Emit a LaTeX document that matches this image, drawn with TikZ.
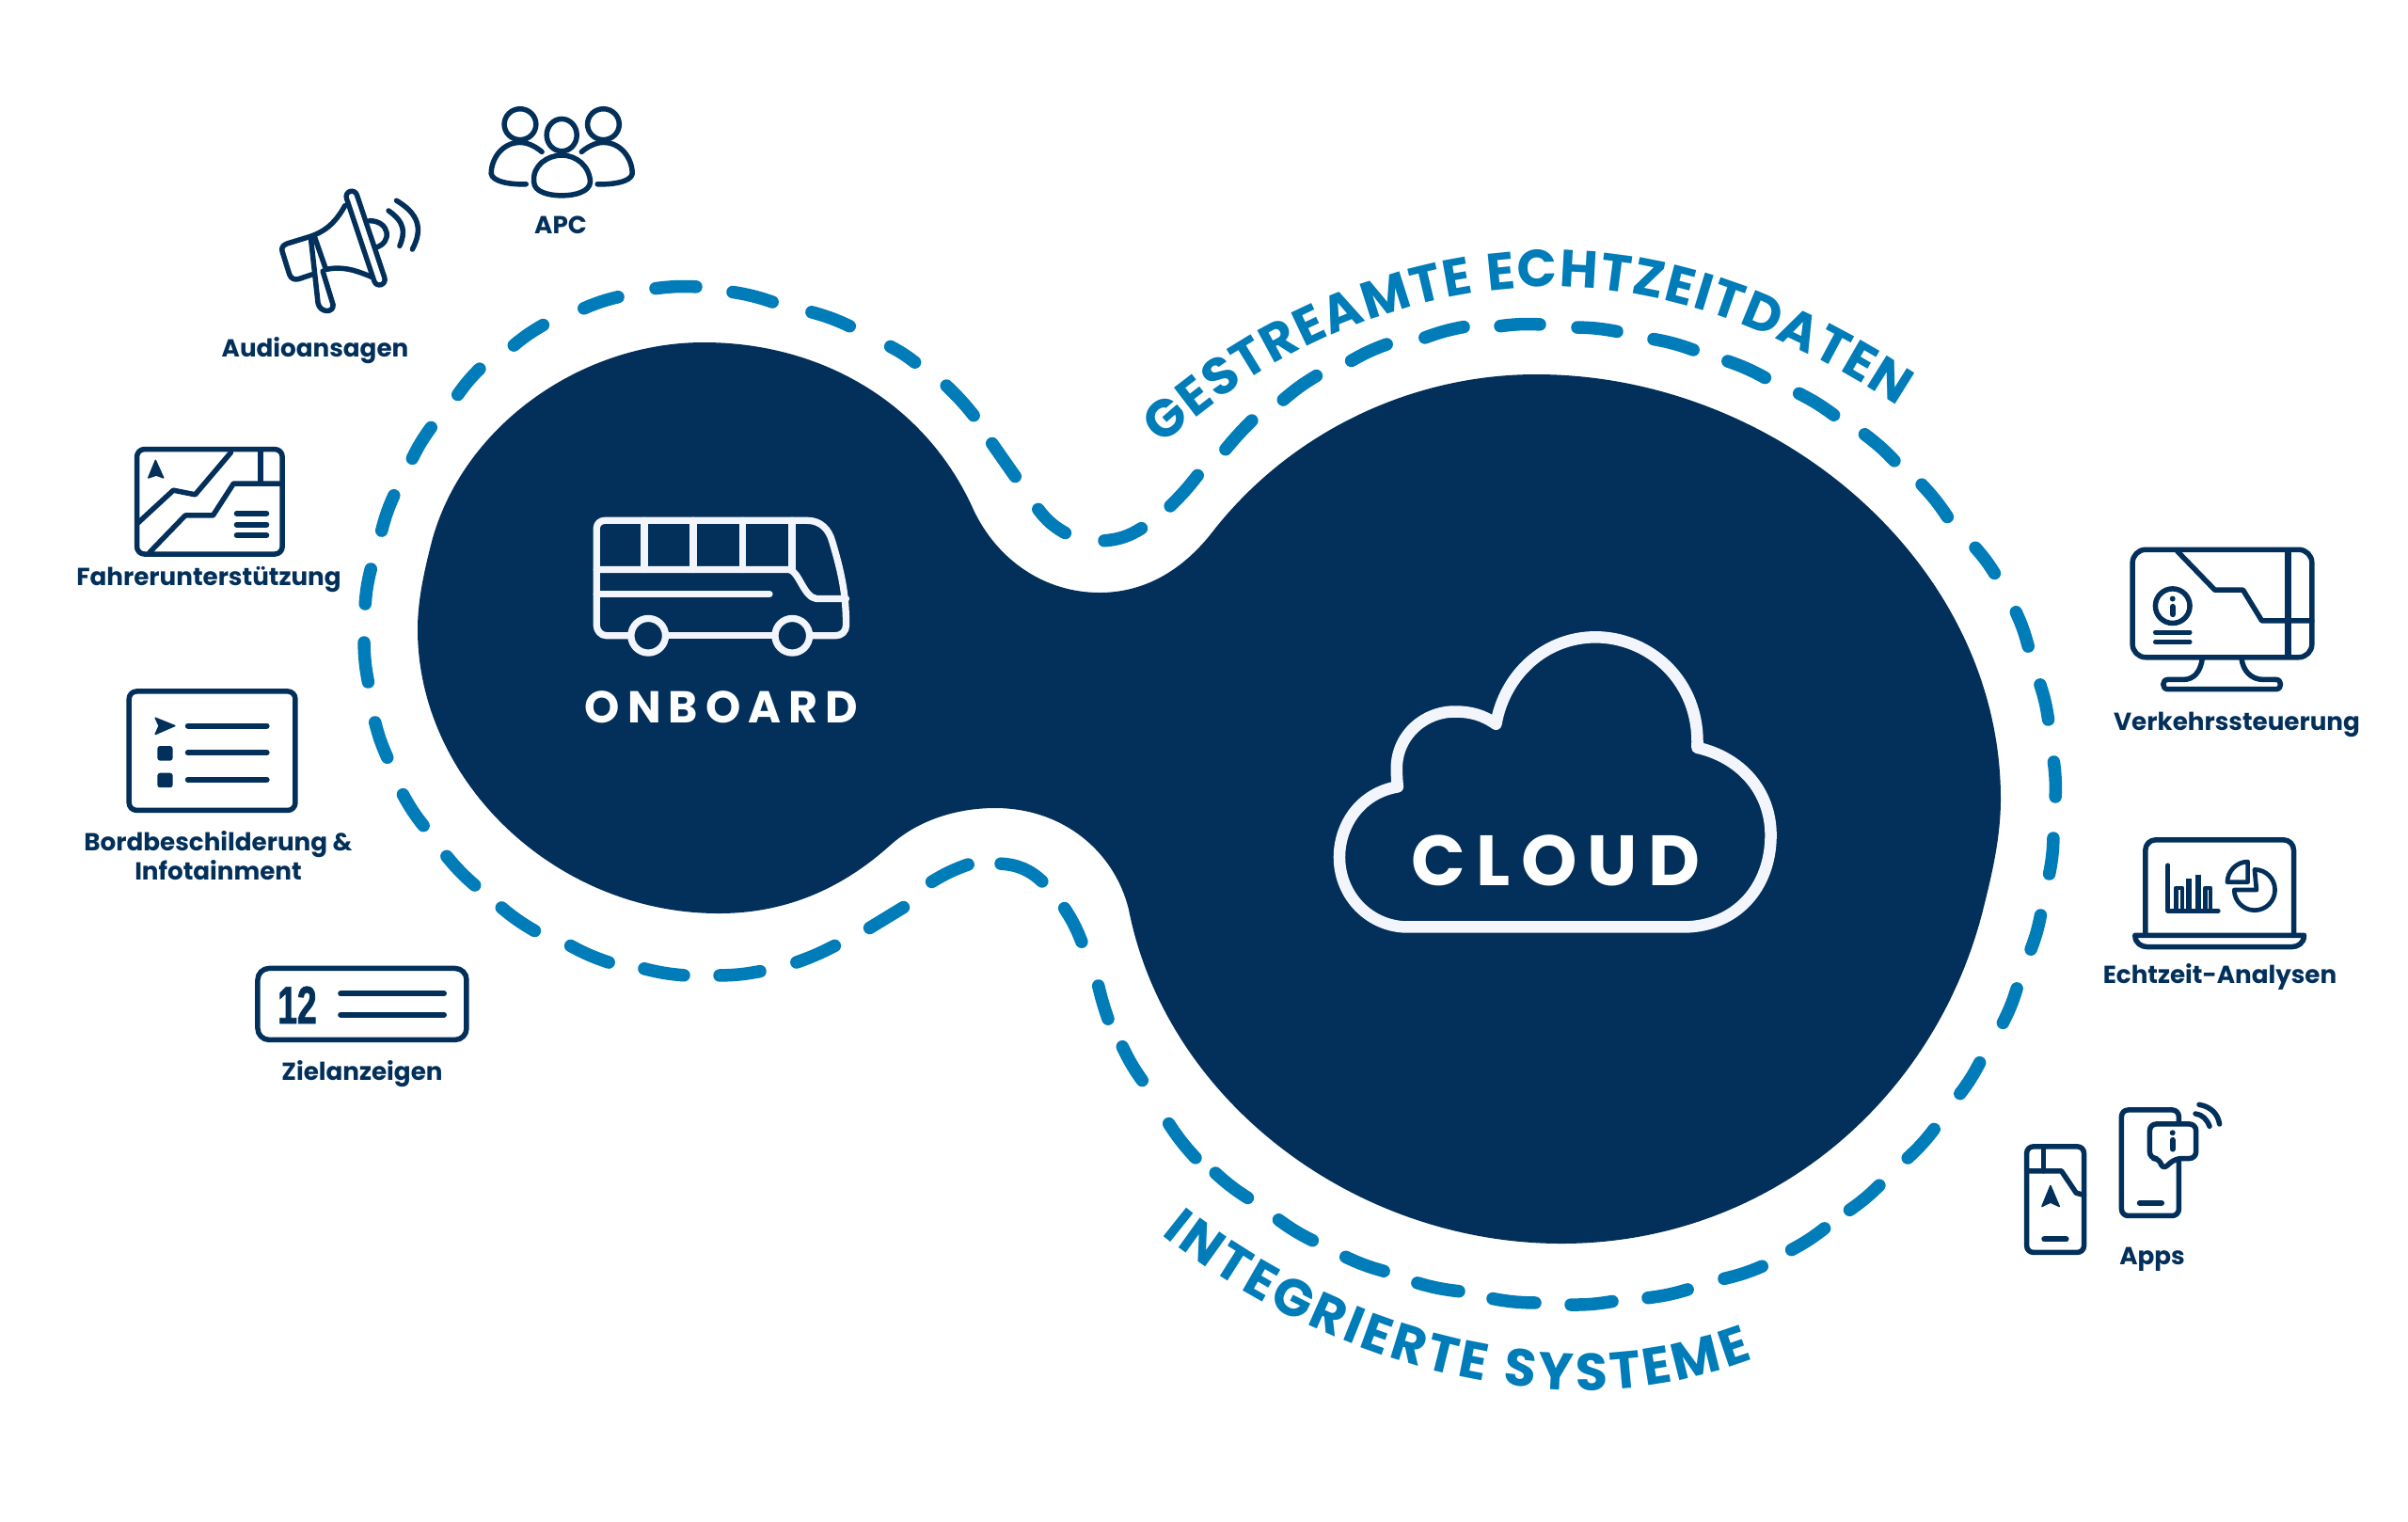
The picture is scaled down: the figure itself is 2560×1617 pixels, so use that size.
\documentclass[tikz,border=0pt]{standalone}
\usepackage{fontspec}
\usetikzlibrary{decorations.text}
\setmainfont{Poppins}
\newfontfamily\numfont[FakeStretch=0.66,FakeBold=1.5]{Liberation Sans}
\definecolor{navy}{HTML}{02305A}
\definecolor{dashblue}{HTML}{007CB9}
\definecolor{iconwhite}{HTML}{F2F5FB}
\newcommand\arctext{\bfseries\fontsize{15.8}{18}\selectfont\color{dashblue}}
\tikzset{
  zoomA/.style={shift={(60,90)},x=0.0042088cm,y=-0.0035714cm},
  zoomB/.style={shift={(60,700)},x=0.003333cm,y=-0.003333cm},
  zoomC/.style={shift={(2140,550)},x=0.003333cm,y=-0.003333cm},
  zoomD/.style={shift={(2120,1140)},x=0.003333cm,y=-0.003333cm},
  zoomE/.style={shift={(600,520)},x=0.003333cm,y=-0.003333cm},
  zoomF/.style={shift={(1400,650)},x=0.003333cm,y=-0.003333cm},
  zoomG/.style={shift={(2250,880)},x=0.003333cm,y=-0.003333cm},
  icon/.style={draw=navy,line width=.055cm,line join=round,line cap=round},
  thinbar/.style={draw=navy,line width=.06cm,line cap=round},
  solid icon/.style={fill=navy,draw=navy,line width=.015cm,line join=round},
  lightline/.style={draw=iconwhite,line width=.073cm,line join=round,line cap=round},
  label/.style={anchor=base,inner sep=0pt,text=navy,font=\bfseries\fontsize{7.45}{8}\selectfont},
  dashpiece/.style={draw=dashblue,line width=.135cm,line cap=round,shorten >=.03cm,shorten <=.03cm},
}
\begin{document}
\begin{tikzpicture}[x=0.01cm,y=-0.01cm]
\useasboundingbox (0,0) rectangle (2560,1617);
\fill[white] (0,0) rectangle (2560,1617);
% blob
\fill[navy] (748,364) .. controls (620,364) and (495,450) .. (460,572)
 .. controls (450,610) and (444,640) .. (444,669)
 .. controls (444,830) and (590,971) .. (764,971)
 .. controls (835,971) and (895,945) .. (947,898)
 .. controls (975,873) and (1015,859) .. (1058,859)
 .. controls (1130,859) and (1185,905) .. (1200,967)
 .. controls (1240,1170) and (1440,1322) .. (1660,1322)
 .. controls (1880,1322) and (2060,1170) .. (2110,960)
 .. controls (2120,920) and (2127,885) .. (2127,849)
 .. controls (2127,600) and (1890,398) .. (1633,398)
 .. controls (1500,398) and (1370,460) .. (1287,568)
 .. controls (1255,608) and (1215,630) .. (1169,630)
 .. controls (1110,630) and (1060,595) .. (1035,542)
 .. controls (985,430) and (875,364) .. (748,364) -- cycle;
% dashes
\foreach \a/\b/\c/\d/\e in {
 1171/575/1216/560/-14, 1242/540/1275/503/-4, 1301/480/1333/445/3, 1362/427/1402/398/5,
 1434/385/1477/365/5, 1512/360/1559/347/5, 1592/347/1640/345/5, 1674/348/1722/353/5,
 1755/360/1803/373/5, 1834/383/1879/403/5, 1910/417/1952/443/5, 1980/460/2016/492/5,
 2041/513/2072/552/5, 2098/580/2122/612/5, 2142/648/2157/690/5, 2168/725/2178/768/5,
 2183/807/2185/850/5, 2183/888/2178/932/5, 2170/970/2158/1012/5, 2145/1048/2128/1090/5,
 2106/1127/2082/1165/5, 2058/1198/2026/1233/5, 2000/1258/1964/1288/5, 1942/1304/1902/1330/5,
 1876/1345/1830/1360/5, 1797/1370/1749/1380/5, 1717/1383/1667/1387/5, 1635/1385/1584/1380/5,
 1554/1373/1504/1363/5, 1474/1352/1428/1335/5, 1398/1320/1357/1295/5, 1329/1275/1290/1245/5,
 1273/1233/1241/1192/5, 1216/1151/1192/1110/5, 1179/1086/1167/1045/3, 1151/1004/1130/963/-6,
 1110/939/1061/918/-20, 1032/918/988/939/-6, 963/963/922/988/0, 890/1004/844/1024/4,
 811/1032/762/1037/5, 730/1037/682/1029/5, 650/1024/604/1004/5, 571/991/531/963/5,
 507/943/473/908/5, 452/880/427/842/5, 413/808/398/765/5, 392/728/387/680/5,
 388/645/395/602/5, 405/567/420/524/5, 437/490/460/452/5, 485/422/512/390/5,
 544/369/580/344/5, 618/329/660/315/5, 694/307/743/305/5, 776/310/824/322/5,
 860/331/906/348/5, 944/367/975/387/5, 1004/408/1037/444/4, 1053/469/1081/509/0,
 1102/539/1135/568/-12}
 { \draw[dashpiece] (\a,\b) to[bend left=\e] (\c,\d); }
% curved texts
\path[decorate,decoration={text along path,text align={fit to path},
  text={|\arctext|GESTREAMTE ECHTZEITDATEN}}]
  (1236,474) .. controls (1335,382) and (1485,305) .. (1650,305)
  .. controls (1775,305) and (1895,352) .. (2018,432);
\path[decorate,decoration={text along path,text align={fit to path},
  text={|\arctext|INTEGRIERTE SYSTEME}}]
  (1235,1312) .. controls (1330,1390) and (1500,1478) .. (1685,1478)
  .. controls (1750,1478) and (1810,1465) .. (1864,1445);
% bus
\begin{scope}[zoomE]
 \draw[lightline] (205,468) -- (135,468) .. controls (115,468) and (103,450) .. (103,435)
   -- (103,125) .. controls (103,110) and (115,100) .. (130,100) -- (775,100)
   .. controls (820,100) and (845,130) .. (855,165) .. controls (885,265) and (900,335) .. (900,435)
   .. controls (900,455) and (885,468) .. (865,468) -- (790,468);
 \draw[lightline] (335,468) -- (665,468);
 \draw[lightline] (268,468) circle[radius=55] (728,468) circle[radius=55];
 \foreach \q in {255,412,570,727} { \draw[lightline] (\q,100) -- (\q,257); }
 \draw[lightline] (103,257) -- (720,257) .. controls (750,265) and (765,345) .. (805,350) -- (900,350);
 \draw[lightline] (103,335) -- (655,335);
\end{scope}
\node[anchor=base,inner sep=0pt,text=white,font=\bfseries\fontsize{13.5}{15}\selectfont] (onboard) at (767,768) {\addfontfeature{LetterSpace=17}ONBOARD};
% cloud
\begin{scope}[zoomF]
 \draw[draw=iconwhite,line width=.125cm,line join=round,line cap=round]
  (290,1008) -- (1170,1008) .. controls (1340,1008) and (1450,880) .. (1450,715)
  .. controls (1450,570) and (1350,465) .. (1215,435)
  .. controls (1225,220) and (1060,82) .. (890,82)
  .. controls (730,82) and (600,200) .. (572,360)
  .. controls (530,330) and (490,320) .. (440,320)
  .. controls (340,320) and (250,400) .. (255,510)
  .. controls (255,530) and (257,550) .. (258,560)
  .. controls (140,580) and (72,680) .. (72,785)
  .. controls (72,910) and (170,1008) .. (290,1008) -- cycle;
\end{scope}
\node[anchor=base,inner sep=0pt,text=white,font=\bfseries\fontsize{21.5}{24}\selectfont] (cloud) at (1654,941) {\addfontfeature{LetterSpace=15}CLOUD};
% people
\begin{scope}[zoomA]
 \draw[icon] (1275,150) ellipse[x radius=38,y radius=48];
 \draw[icon] (1170,118) ellipse[x radius=40,y radius=46];
 \draw[icon] (1380,118) ellipse[x radius=40,y radius=46];
 \draw[icon] (1205,290) .. controls (1200,240) and (1240,210) .. (1275,210)
   .. controls (1310,210) and (1345,240) .. (1347,290)
   .. controls (1345,318) and (1310,330) .. (1275,330)
   .. controls (1240,330) and (1205,318) .. (1205,290) -- cycle;
 \draw[icon] (1225,200) .. controls (1205,180) and (1185,172) .. (1170,172)
   .. controls (1125,172) and (1097,220) .. (1097,265)
   .. controls (1100,290) and (1150,298) .. (1185,296);
 \draw[icon] (1325,200) .. controls (1345,180) and (1365,172) .. (1380,172)
   .. controls (1425,172) and (1453,220) .. (1453,265)
   .. controls (1450,290) and (1400,298) .. (1365,296);
 % megaphone
 \draw[icon] (728,360) .. controls (700,420) and (670,440) .. (640,452) -- (582,473)
   .. controls (570,478) and (567,488) .. (570,497) -- (588,565)
   .. controls (592,578) and (602,582) .. (612,578) -- (645,565);
 \draw[icon] (652,455) -- (680,550) .. controls (720,540) and (750,550) .. (795,572);
 \draw[icon] (642,458) -- (660,650) .. controls (665,680) and (700,680) .. (698,655) -- (672,555);
 \draw[icon] (790,405) .. controls (840,405) and (850,470) .. (805,485);
 \draw[icon] (838,375) .. controls (880,410) and (880,440) .. (866,480);
 \draw[icon] (858,345) .. controls (915,385) and (925,430) .. (898,490);
 \draw[navy,line width=.17cm,line cap=round] (745,333) -- (815,580);
 \draw[white,line width=.06cm,line cap=round] (745,333) -- (815,580);
 % driver-support screen
 \draw[icon,rounded corners=.08cm] (203,1085) rectangle (570,1397);
 \draw[icon] (205,1305) -- (295,1207) -- (350,1220) -- (440,1095);
 \draw[icon] (235,1392) -- (325,1282) -- (395,1282) -- (447,1187) -- (570,1187);
 \draw[icon] (515,1090) -- (515,1187);
 \foreach \q in {1276,1309,1341} { \draw[thinbar] (455,\q) -- (530,\q); }
 \draw[solid icon] (250,1118) -- (270,1170) -- (252,1162) -- (232,1170) -- cycle;
\end{scope}
% signage
\begin{scope}[zoomB]
 \draw[icon,rounded corners=.08cm] (232,105) rectangle (763,485);
 \draw[solid icon] (316,190) -- (378,215) -- (316,242) -- (328,215) -- cycle;
 \draw[solid icon,rounded corners=.02cm] (325,282) rectangle (369,324);
 \draw[solid icon,rounded corners=.02cm] (325,368) rectangle (369,410);
 \foreach \q in {215,301,387} { \draw[thinbar] (420,\q) -- (672,\q); }
 \draw[icon,rounded corners=.12cm] (643,990) rectangle (1310,1218);
 \foreach \q in {1071,1138} { \draw[thinbar] (908,\q) -- (1238,\q); }
\end{scope}
\node[anchor=base,inner sep=0pt,text=navy,font=\numfont\bfseries\fontsize{16}{18}\selectfont] (twelve) at (316,1088) {12};
% monitor and laptop
\begin{scope}[zoomC]
 \draw[icon,rounded corners=.14cm] (382,103) rectangle (955,447);
 \draw[thinbar,line width=.07cm,line cap=butt] (878,103) -- (878,447);
 \draw[icon] (525,108) -- (645,232) -- (735,232) -- (795,330) -- (955,330);
 \draw[icon] (510,283) circle[radius=55];
 \draw[thinbar] (510,285) -- (510,310);
 \fill[navy] (510,260) circle[radius=9];
 \foreach \q in {367,398} { \draw[thinbar,line width=.05cm] (455,\q) -- (565,\q); }
 \draw[icon] (605,450) .. controls (600,490) and (580,518) .. (545,518) -- (495,518)
   .. controls (475,518) and (475,549) .. (495,549) -- (840,549)
   .. controls (860,549) and (860,518) .. (840,518) -- (800,518)
   .. controls (760,518) and (735,490) .. (730,450);
 \draw[icon,rounded corners=.11cm] (423,1332) -- (423,1030) -- (897,1030) -- (897,1332);
 \draw[icon] (390,1335) -- (930,1335) .. controls (930,1360) and (910,1372) .. (890,1372)
   -- (430,1372) .. controls (410,1372) and (390,1360) .. (390,1335) -- cycle;
 \draw[icon,line width=.047cm] (772,1125) arc[start angle=-90,end angle=180,x radius=65,y radius=65] -- (778,1190) -- cycle;
 \draw[icon,line width=.047cm] (750,1100) -- (750,1165) -- (685,1165) .. controls (685,1130) and (715,1100) .. (750,1100) -- cycle;
\end{scope}
\begin{scope}[zoomG]
 \draw[icon,line width=.05cm] (165,120) -- (165,265) -- (325,265);
 \draw[icon,line width=.045cm] (190,265) -- (190,192) -- (210,192) -- (210,265);
 \draw[navy,line width=.065cm] (232,162) -- (232,265);
 \draw[navy,line width=.065cm] (262,150) -- (262,265);
 \draw[icon,line width=.045cm] (284,265) -- (284,192) -- (300,192) -- (300,265);
\end{scope}
% phones
\begin{scope}[zoomD]
 \draw[icon,rounded corners=.07cm] (104,237) rectangle (287,575);
 \draw[icon] (158,237) -- (158,315);
 \draw[icon] (104,315) -- (215,315) -- (262,385) -- (287,392);
 \draw[solid icon] (180,362) -- (208,428) -- (180,415) -- (153,428) -- cycle;
 \draw[thinbar] (160,533) -- (230,533);
 \draw[icon,rounded corners=.07cm] (407,120) rectangle (590,458);
 \draw[icon,fill=white,rounded corners=.07cm] (497,165) -- (645,165) -- (645,275) -- (578,275) -- (537,312) -- (530,275) -- (497,275) -- cycle;
 \fill[navy] (570,193) circle[radius=9];
 \draw[thinbar] (570,216) -- (570,245);
 \draw[thinbar] (465,417) -- (535,417);
 \draw[icon] (643,132) .. controls (665,135) and (680,150) .. (688,172);
 \draw[icon] (655,103) .. controls (695,110) and (715,135) .. (720,165);
\end{scope}
% labels
\node[label] (apc) at (596,248) {APC};
\node[label] (audio) at (335,379) {Audioansagen};
\node[label] (fahrer) at (222,622) {Fahrerunterstützung};
\node[label] (bord) at (232,904) {Bordbeschilderung \&};
\node[label] (info) at (232,935) {Infotainment};
\node[label] (ziel) at (385,1148) {Zielanzeigen};
\node[label] (verkehr) at (2378,776) {Verkehrssteuerung};
\node[label] (echt) at (2360,1045) {Echtzeit-Analysen};
\node[label] (apps) at (2288,1344) {Apps};
\end{tikzpicture}
\end{document}
